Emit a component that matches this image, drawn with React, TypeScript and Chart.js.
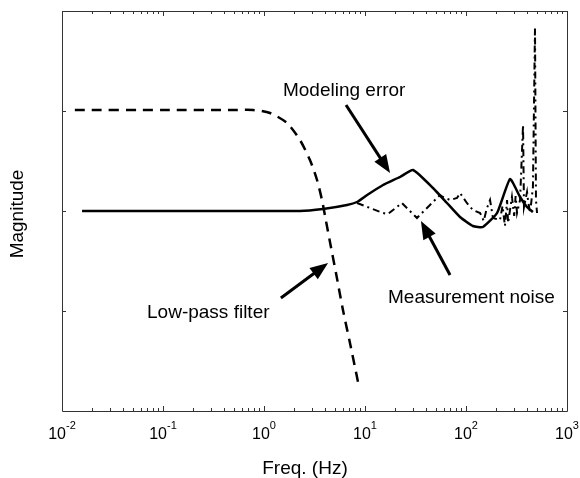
import React, { useEffect, useRef } from "react";
import { Chart, registerables } from "chart.js";

Chart.register(...registerables);

// Low-pass filter (dashed)
const lowPassFreq = [0.0134, 0.1, 0.5, 0.778, 1.147, 1.69, 2.27, 2.85, 3.35, 3.75, 4.11, 4.5, 5.16, 6.05, 7.1, 8.53];
const lowPassMag = [3.01, 3.01, 3.01, 3.01, 2.98, 2.88, 2.71, 2.51, 2.31, 2.11, 1.9, 1.69, 1.38, 1.01, 0.68, 0.29];

// Modeling error (solid)
const modelFreq = [0.0158, 2.27, 3.84, 6.64, 8.34, 10.5, 15.1, 22.2, 29.9, 47.1, 64.8, 87.2, 117, 147, 203, 273, 343, 402, 460];
const modelMag = [2.0, 2.0, 2.02, 2.06, 2.09, 2.16, 2.26, 2.34, 2.41, 2.23, 2.08, 1.94, 1.85, 1.84, 1.98, 2.32, 2.14, 2.04, 1.99];

// Measurement noise (dash-dot)
const noiseFreq = [8.34, 15.1, 16.9, 23.2, 32.7, 44.0, 55.3, 59.2, 69.5, 81.5, 87.3, 102, 117, 138, 150, 160, 173, 185, 217, 230, 243, 255, 261, 285, 300, 310, 320, 343, 367, 375, 402, 411, 431, 460, 482, 493, 505];
const noiseMag = [2.08, 1.98, 1.97, 2.08, 1.93, 2.06, 2.16, 2.14, 2.11, 2.13, 2.18, 2.08, 2.01, 1.98, 1.9, 2.02, 2.11, 1.93, 1.91, 2.05, 1.85, 2.11, 1.88, 2.14, 1.95, 2.15, 1.98, 2.11, 2.86, 2.04, 2.19, 2.11, 1.98, 2.24, 3.83, 2.11, 1.98];

// Axis ticks
const xDecadeExponents = [-2, -1, 0, 1, 2, 3];
const yTickValues = [1, 2, 3];
const xTitle = "Freq. (Hz)";
const yTitle = "Magnitude";

// Annotations: label text, label anchor (freq, mag), arrow tail & tip (freq, mag)
const annoLabels = ["Modeling error", "Measurement noise", "Low-pass filter"];
const annoLabelFreq = [1.54, 16.9, 0.0695];
const annoLabelMag = [3.15, 1.08, 0.93];
const arrowTailFreq = [6.49, 69.5, 1.47];
const arrowTailMag = [3.06, 1.36, 1.13];
const arrowTipFreq = [17.7, 35.8, 4.31];
const arrowTipMag = [2.38, 1.9, 1.48];

const FONT = "'Liberation Sans', Arial, Helvetica, sans-serif";

const toPoints = (xs: number[], ys: number[]) => xs.map((x, i) => ({ x, y: ys[i] }));

const decorPlugin = {
  id: "decor",
  afterDraw(chart: any) {
    const { ctx, chartArea, scales } = chart;
    const xs = scales.x;
    const ys = scales.y;
    const { left, right, top, bottom } = chartArea;
    ctx.save();
    // box
    ctx.strokeStyle = "#333";
    ctx.lineWidth = 1;
    ctx.beginPath();
    ctx.rect(Math.round(left) + 0.5, Math.round(top) + 0.5, Math.round(right - left), Math.round(bottom - top));
    ctx.stroke();

    // x ticks (log)
    ctx.beginPath();
    for (let e = -2; e <= 3; e++) {
      const maxK = e === 3 ? 1 : 9;
      for (let k = 1; k <= maxK; k++) {
        const v = k * Math.pow(10, e);
        const px = Math.round(xs.getPixelForValue(v)) + 0.5;
        const len = k === 1 ? 5 : 3;
        ctx.moveTo(px, bottom);
        ctx.lineTo(px, bottom - len);
        ctx.moveTo(px, top);
        ctx.lineTo(px, top + len);
      }
    }
    // y ticks
    yTickValues.forEach((v) => {
      const py = Math.round(ys.getPixelForValue(v)) + 0.5;
      ctx.moveTo(left, py);
      ctx.lineTo(left + 4, py);
      ctx.moveTo(right, py);
      ctx.lineTo(right - 4, py);
    });
    ctx.stroke();

    // x tick labels with superscripts
    ctx.fillStyle = "#000";
    ctx.textBaseline = "alphabetic";
    xDecadeExponents.forEach((e) => {
      const px = xs.getPixelForValue(Math.pow(10, e));
      ctx.font = `16px ${FONT}`;
      const wb = ctx.measureText("10").width;
      ctx.font = `11px ${FONT}`;
      const we = ctx.measureText(String(e)).width;
      const start = px - (wb + we) / 2;
      ctx.font = `16px ${FONT}`;
      ctx.textAlign = "left";
      ctx.fillText("10", start, bottom + 28);
      ctx.font = `11px ${FONT}`;
      ctx.fillText(String(e), start + wb, bottom + 18);
    });

    // axis titles
    ctx.font = `19px ${FONT}`;
    ctx.textAlign = "center";
    ctx.fillText(xTitle, 305, 474);
    ctx.save();
    ctx.translate(23, 214);
    ctx.rotate(-Math.PI / 2);
    ctx.textBaseline = "alphabetic";
    ctx.fillText(yTitle, 0, 0);
    ctx.restore();

    // annotations
    ctx.font = `19px ${FONT}`;
    ctx.textAlign = "left";
    annoLabels.forEach((t, i) => {
      ctx.fillText(t, xs.getPixelForValue(annoLabelFreq[i]), ys.getPixelForValue(annoLabelMag[i]));
    });
    annoLabels.forEach((_, i) => {
      const x0 = xs.getPixelForValue(arrowTailFreq[i]);
      const y0 = ys.getPixelForValue(arrowTailMag[i]);
      const x1 = xs.getPixelForValue(arrowTipFreq[i]);
      const y1 = ys.getPixelForValue(arrowTipMag[i]);
      const ang = Math.atan2(y1 - y0, x1 - x0);
      const hl = 18;
      const hw = 7;
      const bx = x1 - hl * Math.cos(ang);
      const by = y1 - hl * Math.sin(ang);
      ctx.strokeStyle = "#000";
      ctx.lineWidth = 3;
      ctx.beginPath();
      ctx.moveTo(x0, y0);
      ctx.lineTo(bx + 2 * Math.cos(ang), by + 2 * Math.sin(ang));
      ctx.stroke();
      ctx.beginPath();
      ctx.moveTo(x1, y1);
      ctx.lineTo(bx + hw * Math.sin(ang), by - hw * Math.cos(ang));
      ctx.lineTo(bx - hw * Math.sin(ang), by + hw * Math.cos(ang));
      ctx.closePath();
      ctx.fillStyle = "#000";
      ctx.fill();
    });
    ctx.restore();
  },
};

export default function App() {
  const ref = useRef<HTMLCanvasElement | null>(null);
  useEffect(() => {
    if (!ref.current) return;
    const chart = new Chart(ref.current, {
      type: "scatter",
      data: {
        datasets: [
          {
            label: "Low-pass filter",
            data: toPoints(lowPassFreq, lowPassMag),
            showLine: true,
            borderColor: "#000",
            borderWidth: 2.5,
            borderDash: [10, 7],
            pointRadius: 0,
            tension: 0.25,
          },
          {
            label: "Modeling error",
            data: toPoints(modelFreq, modelMag),
            showLine: true,
            borderColor: "#000",
            borderWidth: 2.5,
            pointRadius: 0,
            tension: 0.15,
          },
          {
            label: "Measurement noise",
            data: toPoints(noiseFreq, noiseMag),
            showLine: true,
            borderColor: "#000",
            borderWidth: 2,
            borderDash: [7, 4, 2, 4],
            pointRadius: 0,
            tension: 0,
          },
        ],
      } as any,
      options: {
        responsive: false,
        devicePixelRatio: 1,
        animation: false,
        events: [],
        layout: { padding: { left: 62, right: 13, top: 11, bottom: 67 } },
        plugins: { legend: { display: false }, tooltip: { enabled: false }, title: { display: false } },
        scales: {
          x: { type: "logarithmic", min: 0.01, max: 1000, display: false },
          y: { type: "linear", min: 0, max: 4, display: false },
        },
      } as any,
      plugins: [decorPlugin],
    });
    return () => chart.destroy();
  }, []);
  return (
    <div style={{ position: "absolute", left: 0, top: 0, width: 580, height: 478, background: "#fff" }}>
      <canvas ref={ref} width={580} height={478} style={{ display: "block", width: 580, height: 478 }} />
    </div>
  );
}
